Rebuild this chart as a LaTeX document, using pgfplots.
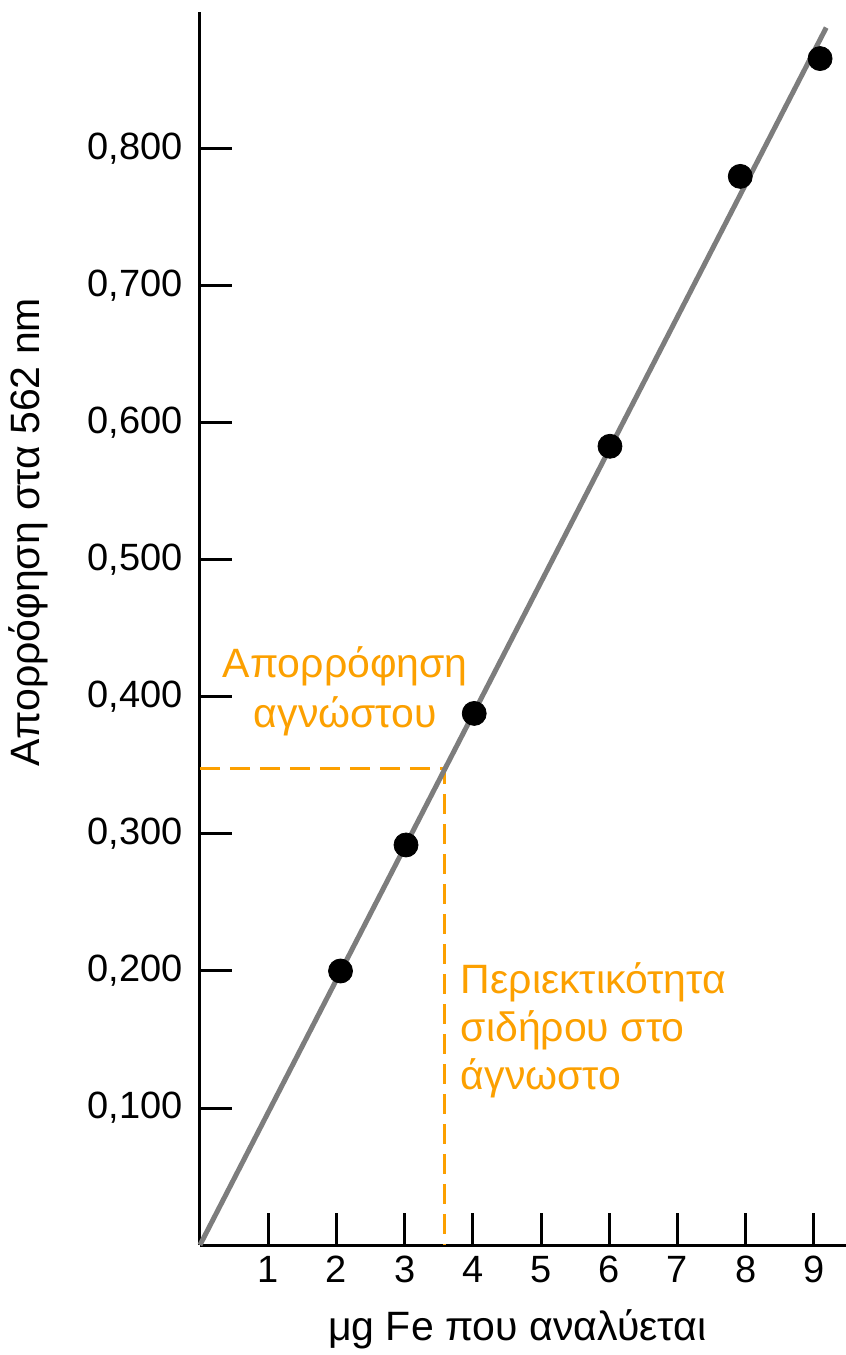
\documentclass[border=0pt]{standalone}
\usepackage{fontspec}
\setmainfont{Liberation Sans}
\usepackage{pgfplots}
\pgfplotsset{compat=1.18}
\definecolor{orng}{RGB}{252,160,0}
\definecolor{lgray}{RGB}{125,125,125}
\begin{document}
\begin{tikzpicture}
\useasboundingbox (-100pt,-55pt) rectangle (323pt,622.5pt);
\begin{axis}[
  scale only axis, width=323pt, height=616.5pt,
  xmin=0, xmax=9.47, ymin=0, ymax=0.9,
  axis lines=left, axis line style={line width=1.5pt,-},
  tick style={line width=1.5pt,black}, tick align=inside,
  major tick length=16pt,
  xtick={1,...,9}, ytick={0.1,0.2,0.3,0.4,0.5,0.6,0.7,0.8},
  yticklabels={{0,100},{0,200},{0,300},{0,400},{0,500},{0,600},{0,700},{0,800}},
  /pgf/number format/assume math mode=true,
  ticklabel style={font=\fontsize{19}{22}\selectfont},
  xticklabel style={yshift=-2pt},
  yticklabel style={xshift=-5pt},
  xlabel={μg Fe που αναλύεται},
  ylabel={Απορρόφηση στα 562 nm},
  label style={font=\fontsize{20.5}{24}\selectfont},
  xlabel style={at={(axis description cs:0.491,-0.068)}, anchor=center},
  ylabel style={at={(axis description cs:-0.265,0.578)}, anchor=center},
  clip=false,
]
\addplot[orng, line width=1.4pt, dash pattern=on 10pt off 5pt] coordinates {(0,0.348) (3.58,0.348) (3.58,0)};
\addplot[lgray, line width=2.5pt] coordinates {(0,0) (9.18,0.8886)};
\addplot[only marks, mark=*, mark size=6pt, black] coordinates {
(2.06,0.200) (3.02,0.292) (4.02,0.388) (6.01,0.583) (7.92,0.780) (9.09,0.866)};
\node[orng, align=center, font=\fontsize{20.5}{25}\selectfont] at (axis cs:2.13,0.404) {Απορρόφηση\\αγνώστου};
\node[orng, align=left, anchor=west, font=\fontsize{20.5}{24}\selectfont] at (axis cs:3.72,0.157) {Περιεκτικότητα\\σιδήρου στο\\άγνωστο};
\end{axis}
\end{tikzpicture}
\end{document}
